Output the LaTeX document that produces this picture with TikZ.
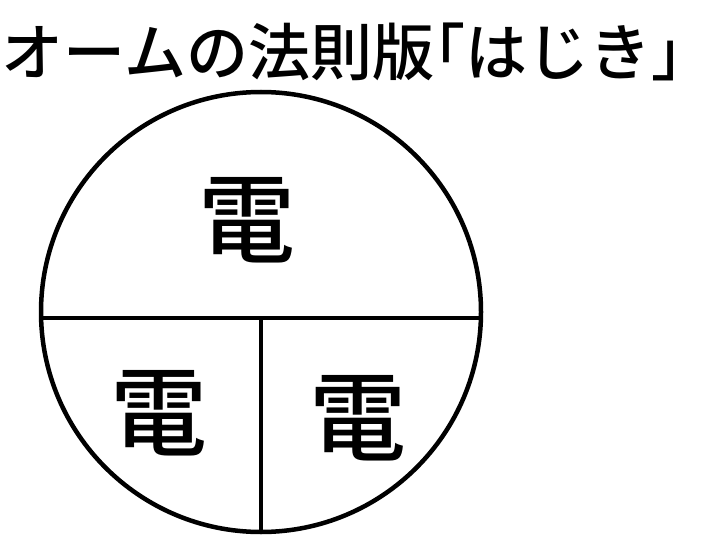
\documentclass[tikz,border=0pt]{standalone}
\usepackage{fontspec}
\newfontfamily\jp{Noto Sans CJK JP Medium}
\newfontfamily\jphalf[RawFeature=+halt]{Noto Sans CJK JP Medium}
\newcommand{\hb}[1]{{\jphalf #1}}
\begin{document}
\begin{tikzpicture}[x=1pt,y=-1pt,
  lbl/.style={inner sep=0pt,font=\jp\fontsize{97}{97}\selectfont},
  ttl/.style={inner sep=0pt,font=\jp\fontsize{62}{62}\selectfont},
  ln/.style={line width=4.5pt,black}]
\useasboundingbox (0,0) rectangle (701,559);
\node[ttl] (title) at (342,52) {オームの法則版\hb{「}はじき\hb{」}};
\coordinate (c) at (261,312);
\draw[ln] (c) circle (220);
\coordinate (L) at (41,318);
\coordinate (R) at (481,318);
\coordinate (T) at (261,318);
\coordinate (B) at (261,532);
\draw[ln] (L) -- (R);
\draw[ln] (T) -- (B);
\node[lbl] (top) at (247,220) {電};
\node[lbl] (bl) at (159,413) {電};
\node[lbl] (br) at (358,418) {電};
\end{tikzpicture}
\end{document}
